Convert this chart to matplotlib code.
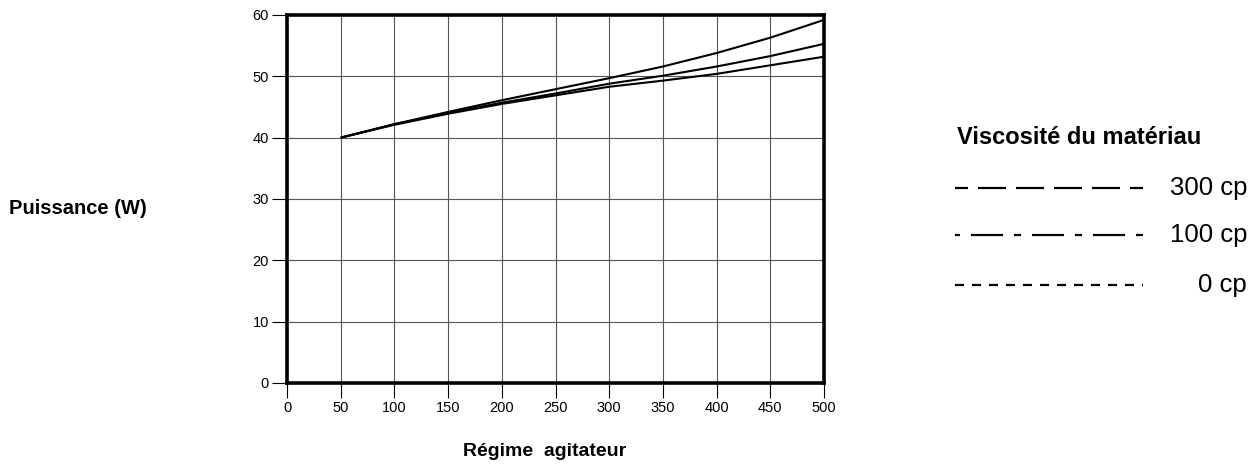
import numpy as np
import matplotlib
matplotlib.use("Agg")
import matplotlib.pyplot as plt
from matplotlib.lines import Line2D

plt.rcParams['font.family'] = ['Liberation Sans', 'DejaVu Sans']
plt.rcParams['lines.scale_dashes'] = False

# regime agitateur vs puissance (W), one curve per viscosite
regime = [50, 100, 150, 200, 250, 300, 350, 400, 450, 500]
p_300cp = [40.0, 42.2, 44.2, 46.1, 47.9, 49.7, 51.6, 53.8, 56.3, 59.2]
p_100cp = [40.0, 42.2, 44.0, 45.7, 47.2, 48.8, 50.1, 51.6, 53.3, 55.3]
p_0cp = [40.0, 42.1, 43.9, 45.5, 46.9, 48.3, 49.3, 50.4, 51.8, 53.2]

x_ticks = [0, 50, 100, 150, 200, 250, 300, 350, 400, 450, 500]
y_ticks = [0, 10, 20, 30, 40, 50, 60]
legend_labels = ['300 cp', '100 cp', '0 cp']

W, H = 1258, 466
fig = plt.figure(figsize=(W / 100, H / 100), dpi=100)
ax = fig.add_axes([287 / W, 1 - 383 / H, (824 - 287) / W, (383 - 15) / H])

for yv in [p_300cp, p_100cp, p_0cp]:
    ax.plot(regime, yv, color='black', lw=1.5, solid_capstyle='butt')

ax.set_xlim(0, 500)
ax.set_ylim(0, 60)
ax.set_xticks(x_ticks)
ax.set_yticks(y_ticks)
ax.grid(True, color='#555555', lw=0.8)
ax.set_axisbelow(True)
for s in ax.spines.values():
    s.set_linewidth(2.6)
ax.tick_params(axis='both', length=11, width=0.8, labelsize=10.5, pad=2)

fig.text(9 / W, 1 - 208 / H, 'Puissance (W)', fontsize=14.5, fontweight='bold',
         ha='left', va='center')
fig.text(545 / W, 1 - 452 / H, 'Régime  agitateur', fontsize=14, fontweight='bold',
         ha='center', va='center')

# legend drawn by hand
fig.text(957 / W, 1 - 137 / H, 'Viscosité du matériau', fontsize=17, fontweight='bold',
         ha='left', va='center')
px = 0.72
styles = [
    ((28 * px, 10 * px), 15 * px),
    ((32 * px, 11 * px, 7 * px, 11 * px), 45 * px),
    ((9 * px, 8 * px), 0),
]
ys = [188, 235, 285]
for lab, (dashes, off), yy in zip(legend_labels, styles, ys):
    ln = Line2D([955 / W, 1143 / W], [1 - yy / H, 1 - yy / H], transform=fig.transFigure,
                color='black', lw=1.6, linestyle=(off, dashes), dash_capstyle='butt')
    fig.add_artist(ln)
    fig.text(1247 / W, 1 - yy / H, lab, fontsize=18.5, ha='right', va='center')

fig.savefig('out.png', dpi=100)
